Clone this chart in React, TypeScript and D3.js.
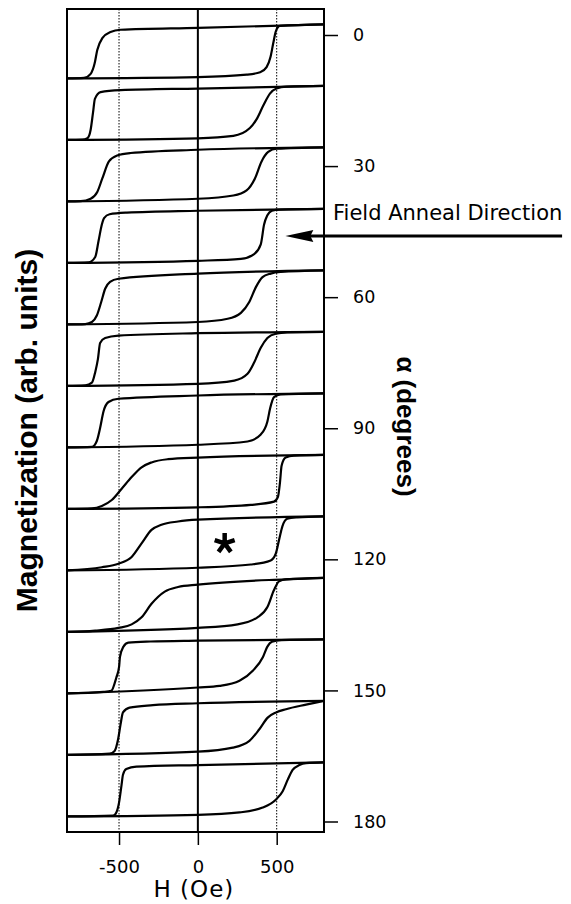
import React, { Component } from 'react';
import * as d3 from 'd3';

type Pt = [number, number];

// angle alpha of each loop, top to bottom
const angles = [0, 15, 30, 45, 60, 75, 90, 105, 120, 135, 150, 165, 180];
const angleTicks = [0, 30, 60, 90, 120, 150, 180];
const fieldTicks = [-500, 0, 500];
const guideFields = [-500, 500];

// increasing-field branch of each loop: [H (Oe), M (normalised)]
const lowerBranches: Pt[][] = [
  [[-830, -1], [0, -0.95], [310, -0.86], [395, -0.77], [436, -0.58], [461, -0.2], [478, 0.3], [495, 0.75], [520, 0.94], [800, 1]],
  [[-830, -1], [0, -0.94], [225, -0.85], [330, -0.56], [372, -0.24], [415, 0.27], [457, 0.71], [499, 0.9], [562, 0.97], [800, 1]],
  [[-830, -1], [0, -0.9], [225, -0.78], [309, -0.59], [362, -0.15], [404, 0.48], [446, 0.83], [499, 0.95], [800, 1]],
  [[-830, -1], [0, -0.92], [273, -0.85], [357, -0.67], [399, -0.31], [420, 0.42], [440, 0.75], [470, 0.93], [520, 0.97], [800, 1]],
  [[-830, -1], [0, -0.91], [189, -0.79], [273, -0.57], [326, -0.17], [368, 0.38], [410, 0.75], [462, 0.88], [525, 0.94], [800, 1]],
  [[-830, -1], [0, -0.92], [231, -0.8], [315, -0.55], [357, -0.13], [399, 0.41], [441, 0.77], [494, 0.93], [567, 0.98], [800, 1]],
  [[-830, -1], [0, -0.9], [315, -0.78], [399, -0.52], [441, -0.04], [458, 0.44], [483, 0.86], [525, 0.96], [800, 1]],
  [[-830, -1], [0, -0.94], [336, -0.85], [483, -0.73], [508, -0.55], [521, -0.01], [531, 0.6], [557, 0.9], [609, 0.97], [800, 1]],
  [[-830, -1], [0, -0.9], [336, -0.78], [462, -0.63], [494, -0.38], [515, 0.13], [536, 0.63], [567, 0.91], [630, 0.96], [800, 1]],
  [[-830, -1], [0, -0.85], [252, -0.72], [378, -0.46], [441, -0.08], [483, 0.55], [515, 0.87], [560, 0.94], [800, 1]],
  [[-830, -1], [0, -0.78], [137, -0.72], [264, -0.53], [350, -0.15], [413, 0.35], [440, 0.72], [470, 0.91], [530, 0.97], [800, 1]],
  [[-830, -1], [0, -0.88], [222, -0.73], [327, -0.48], [390, -0.05], [443, 0.38], [496, 0.57], [559, 0.69], [686, 0.86], [800, 1]],
  [[-830, -1], [0, -0.94], [264, -0.85], [411, -0.67], [496, -0.37], [538, -0.07], [570, 0.36], [601, 0.72], [644, 0.9], [686, 0.97], [800, 1]],
];

// decreasing-field branch of each loop
const upperBranches: Pt[][] = [
  [[-830, -1], [-722, -0.98], [-680, -0.83], [-655, -0.45], [-638, 0.05], [-606, 0.49], [-554, 0.72], [-490, 0.8], [0, 0.87], [800, 1]],
  [[-830, -1], [-733, -0.99], [-701, -0.94], [-680, -0.62], [-665, 0.01], [-653, 0.52], [-617, 0.77], [-490, 0.84], [0, 0.9], [800, 1]],
  [[-830, -1], [-743, -0.99], [-680, -0.9], [-638, -0.65], [-606, -0.15], [-564, 0.48], [-512, 0.7], [-427, 0.79], [0, 0.91], [800, 1]],
  [[-830, -1], [-693, -0.98], [-651, -0.78], [-630, -0.19], [-609, 0.42], [-595, 0.66], [-560, 0.8], [-450, 0.86], [0, 0.93], [800, 1]],
  [[-830, -1], [-714, -0.985], [-672, -0.91], [-641, -0.67], [-613, -0.17], [-588, 0.32], [-557, 0.57], [-504, 0.69], [0, 0.88], [800, 1]],
  [[-830, -1], [-714, -0.98], [-672, -0.88], [-651, -0.49], [-634, -0.01], [-620, 0.59], [-588, 0.77], [-504, 0.86], [0, 0.95], [800, 1]],
  [[-830, -1], [-672, -0.98], [-641, -0.76], [-620, -0.28], [-599, 0.32], [-567, 0.68], [-504, 0.8], [0, 0.92], [800, 1]],
  [[-830, -1], [-672, -0.98], [-609, -0.89], [-546, -0.67], [-483, -0.25], [-420, 0.18], [-357, 0.54], [-294, 0.72], [-189, 0.84], [0, 0.9], [800, 1]],
  [[-830, -1], [-609, -0.88], [-504, -0.75], [-420, -0.5], [-357, 0], [-294, 0.5], [-231, 0.69], [-126, 0.81], [0, 0.875], [800, 1]],
  [[-830, -1], [-651, -0.95], [-504, -0.85], [-420, -0.72], [-357, -0.46], [-294, 0.04], [-210, 0.49], [-126, 0.66], [0, 0.75], [550, 0.945], [800, 1]],
  [[-830, -1], [-600, -0.94], [-549, -0.9], [-517, -0.41], [-500, -0.03], [-494, 0.35], [-473, 0.72], [-441, 0.88], [-300, 0.92], [0, 0.95], [800, 1]],
  [[-830, -1], [-559, -0.95], [-528, -0.85], [-506, -0.42], [-490, 0.14], [-475, 0.57], [-433, 0.75], [-285, 0.84], [0, 0.91], [800, 1]],
  [[-830, -1], [-538, -0.97], [-517, -0.85], [-500, -0.49], [-485, 0.12], [-475, 0.54], [-454, 0.75], [-390, 0.84], [0, 0.9], [800, 1]],
];

// annotations
const annealAngle = 45;
const annealArrow = { tipH: 555, tailH: 2310 };
const starAngle = 120;
const starH = 170;

const WIDTH = 571;
const HEIGHT = 904;
const frame = { left: 67, right: 324, top: 9, bottom: 832 };
const LOOP_HALF = 0.44; // half loop height, in loop-spacing units

const tickFont = 'DejaVu Sans, Verdana, sans-serif';
const titleFont = 'Liberation Sans, Arial, Helvetica, sans-serif';

class App extends Component {
  chartRef = React.createRef<HTMLDivElement>();

  componentDidMount() {
    this.renderD3();
  }

  xScale() {
    return d3.scaleLinear().domain([-830, 800]).range([frame.left, frame.right]);
  }

  // loop index -> vertical centre of that loop
  stackScale() {
    return d3.scaleLinear().domain([0, angles.length - 1]).range([51.4, 789.4]);
  }

  angleScale() {
    return d3.scaleLinear().domain([0, 180]).range([35, 821.5]);
  }

  drawGuides(svg) {
    const x = this.xScale();

    svg
      .selectAll('.guide')
      .data(guideFields)
      .enter()
      .append('line')
      .attr('class', 'guide')
      .attr('x1', d => x(d))
      .attr('x2', d => x(d))
      .attr('y1', frame.top)
      .attr('y2', frame.bottom)
      .attr('stroke', '#000')
      .attr('stroke-width', 1)
      .attr('stroke-dasharray', '1.5,1.5');

    svg
      .append('line')
      .attr('x1', x(0))
      .attr('x2', x(0))
      .attr('y1', frame.top)
      .attr('y2', frame.bottom)
      .attr('stroke', '#000')
      .attr('stroke-width', 2);

    svg
      .append('rect')
      .attr('x', frame.left)
      .attr('y', frame.top)
      .attr('width', frame.right - frame.left)
      .attr('height', frame.bottom - frame.top)
      .attr('fill', 'none')
      .attr('stroke', '#000')
      .attr('stroke-width', 2);
  }

  drawLoops(svg) {
    const x = this.xScale();
    const stack = this.stackScale();

    angles.forEach((a, i) => {
      const line = d3
        .line<Pt>()
        .x(d => x(d[0]))
        .y(d => stack(i - d[1] * LOOP_HALF))
        .curve(d3.curveMonotoneX);

      const g = svg.append('g').attr('class', 'loop');
      [lowerBranches[i], upperBranches[i]].forEach(branch => {
        g.append('path')
          .attr('d', line(branch))
          .attr('fill', 'none')
          .attr('stroke', '#000')
          .attr('stroke-width', 2.2)
          .attr('stroke-linejoin', 'round');
      });
    });
  }

  drawAxes(svg) {
    const x = this.xScale();
    const alpha = this.angleScale();

    const xAxis = svg
      .append('g')
      .attr('transform', `translate(0,${frame.bottom})`)
      .call(
        d3
          .axisBottom(x)
          .tickValues(fieldTicks)
          .tickSize(13)
          .tickPadding(15)
          .tickFormat(d => String(d))
      );
    xAxis.select('.domain').remove();
    xAxis.selectAll('line').attr('stroke-width', 1.5);
    xAxis
      .selectAll('text')
      .attr('font-family', tickFont)
      .attr('font-size', 18)
      .attr('fill', '#000');

    const aAxis = svg
      .append('g')
      .attr('transform', `translate(${frame.right},0)`)
      .call(
        d3
          .axisRight(alpha)
          .tickValues(angleTicks)
          .tickSize(14)
          .tickPadding(15)
          .tickFormat(d => String(d))
      );
    aAxis.select('.domain').remove();
    aAxis.selectAll('line').attr('stroke-width', 1.5);
    aAxis
      .selectAll('text')
      .attr('font-family', tickFont)
      .attr('font-size', 17.5)
      .attr('fill', '#000');
  }

  drawLabels(svg) {
    const x = this.xScale();

    svg
      .append('text')
      .attr('x', x(0) - 4)
      .attr('y', 897)
      .attr('text-anchor', 'middle')
      .attr('font-family', tickFont)
      .attr('font-size', 23)
      .attr('letter-spacing', 1)
      .text('H (Oe)');

    svg
      .append('text')
      .attr('transform', 'translate(37,430.5) rotate(-90)')
      .attr('text-anchor', 'middle')
      .attr('font-family', titleFont)
      .attr('font-weight', 'bold')
      .attr('font-size', 30)
      .text('Magnetization (arb. units)');

    svg
      .append('text')
      .attr('transform', 'translate(397,426.5) rotate(90)')
      .attr('text-anchor', 'middle')
      .attr('font-family', titleFont)
      .attr('font-weight', 'bold')
      .attr('font-size', 26)
      .text('α (degrees)');
  }

  drawAnnotations(svg) {
    const x = this.xScale();
    const stack = this.stackScale();

    // field anneal arrow points at the 45 degree loop
    const ay = stack(angles.indexOf(annealAngle));
    const tip = x(annealArrow.tipH);
    const tail = x(annealArrow.tailH);

    svg
      .append('line')
      .attr('x1', tail)
      .attr('x2', tip + 20)
      .attr('y1', ay)
      .attr('y2', ay)
      .attr('stroke', '#000')
      .attr('stroke-width', 3);

    svg
      .append('path')
      .attr('d', `M${tip},${ay} L${tip + 28},${ay - 6} L${tip + 25},${ay} L${tip + 28},${ay + 6} Z`)
      .attr('fill', '#000');

    svg
      .append('text')
      .attr('x', frame.right + 9)
      .attr('y', ay - 16)
      .attr('font-family', tickFont)
      .attr('font-size', 21)
      .text('Field Anneal Direction');

    // asterisk marking the 120 degree loop
    const sx = x(starH);
    const sy = stack(angles.indexOf(starAngle));
    const r = 10.5;
    const arms = [-90, -18, 54, 126, 198]
      .map(deg => {
        const t = (deg * Math.PI) / 180;
        return `M${sx},${sy} L${sx + r * Math.cos(t)},${sy + r * Math.sin(t)}`;
      })
      .join(' ');

    svg
      .append('path')
      .attr('d', arms)
      .attr('stroke', '#000')
      .attr('stroke-width', 4.5)
      .attr('fill', 'none');
  }

  renderD3() {
    const node = this.chartRef.current;
    d3.select(node).selectAll('*').remove();

    const svg = d3
      .select(node)
      .append('svg')
      .attr('width', WIDTH)
      .attr('height', HEIGHT)
      .style('display', 'block')
      .style('background', '#fff');

    this.drawGuides(svg);
    this.drawLoops(svg);
    this.drawAxes(svg);
    this.drawLabels(svg);
    this.drawAnnotations(svg);
  }

  render() {
    return (
      <div
        ref={this.chartRef}
        style={{ position: 'absolute', left: 0, top: 0, width: WIDTH, height: HEIGHT, background: '#fff' }}
      />
    );
  }
}

export default App;
